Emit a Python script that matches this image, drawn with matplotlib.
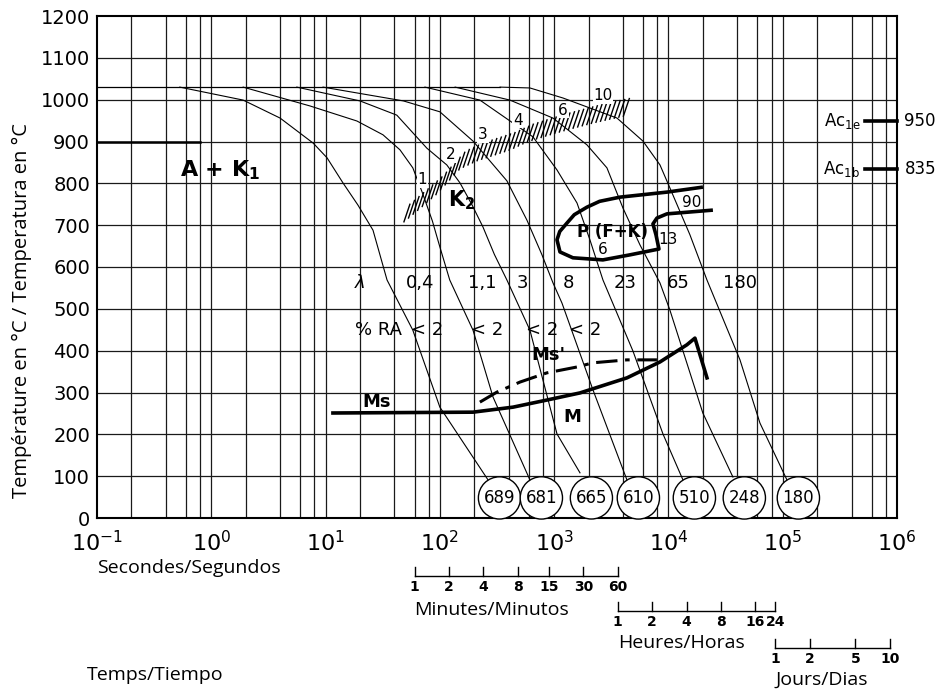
import numpy as np
import matplotlib
matplotlib.use("Agg")
import matplotlib.pyplot as plt
from matplotlib.transforms import blended_transform_factory

plt.rcParams['font.family'] = ['DejaVu Sans']
plt.rcParams['mathtext.fontset'] = 'dejavusans'

# cooling curves: time (s) and temperature (C)
c1_t = [0.53, 1.9, 4.0, 7.8, 10.3, 14.2, 19.2, 26, 34.5, 58, 100, 264]
c1_T = [1030, 999, 956, 896, 861, 801, 748, 688, 569, 449, 265, 91]
c2_t = [1.9, 7.3, 18.8, 31.8, 44.8, 58, 70, 86, 100, 122, 195, 292, 614]
c2_T = [1030, 985, 949, 916, 880, 837, 779, 710, 648, 569, 449, 289, 91]
c3_t = [5.6, 20, 42, 77, 115, 150, 190, 238, 300, 386, 614, 1059, 1683]
c3_T = [1030, 997, 963, 884, 844, 801, 750, 696, 630, 569, 449, 201, 108]
c4_t = [9.5, 48, 100, 195, 386, 578, 780, 977, 1170, 2188, 4335]
c4_T = [1030, 997, 971, 901, 806, 712, 630, 562, 514, 306, 91]
c5_t = [74, 224, 653, 1059, 1585, 2056, 2673, 4895, 8955, 13400]
c5_T = [1030, 999, 911, 832, 753, 665, 569, 399, 201, 91]
c6_t = [136, 410, 977, 1936, 2897, 4000, 5632, 8433, 10300, 20000, 36650]
c6_T = [1030, 999, 956, 892, 837, 741, 653, 562, 497, 251, 98]
c7_t = [336, 614, 1194, 3548, 5984, 8433, 10300, 15420, 21730, 42270, 63200, 108900]
c7_T = [1030, 1028, 1004, 956, 901, 844, 789, 677, 569, 378, 227, 91]

hardness = [689, 681, 665, 610, 510, 248, 180]
lambdas = ['0,4', '1,1', '3', '8', '23', '65', '180']
lambda_t = [67, 233, 523, 1321, 4163, 12110, 42270]
ra_t = [77, 258, 782, 1860]

# K2 carbide band (centre line) and percent labels
k2_t = [51.5, 74, 100, 159, 224, 436, 614, 918, 1374, 2371, 4335]
k2_T = [729, 765, 796, 856, 875, 901, 920, 935, 949, 966, 982]
k2_pct = ['1', '2', '3', '4', '6', '10']
k2_pct_t = [70, 125, 238, 482, 1194, 2673]
k2_pct_T = [808, 868, 916, 951, 975, 1009]

# pearlite region outline
p_t = [20050, 9700, 3770, 2500, 1936, 1500, 1294, 1120, 1059, 1125, 1460, 2670, 4600, 8260,
       7780, 7320, 7930, 9700, 24500]
p_T = [791, 779, 767, 757, 743, 725, 705, 685, 665, 636, 622, 617, 629, 643,
       677, 703, 717, 727, 736]

# martensite start lines
ms_t = [11.6, 195, 437, 865, 1683, 4337, 8430, 14500, 17060, 21740]
ms_T = [251, 253, 265, 282, 299, 335, 373, 414, 430, 335]
ms2_t = [224, 316, 503, 865, 1586, 2183, 4337, 7930]
ms2_T = [277, 301, 325, 347, 361, 371, 378, 378]

aust_T = 1030
ac1e, ac1b = 950, 835

minutes = [1, 2, 4, 8, 15, 30, 60]
hours = [1, 2, 4, 8, 16, 24]
days = [1, 2, 5, 10]

fig = plt.figure(figsize=(9.44, 6.92), dpi=100)
ax = fig.add_axes([97 / 944, 174 / 692, 800 / 944, 502 / 692])
ax.set_xscale('log')
ax.set_xlim(0.1, 1e6)
ax.set_ylim(0, 1200)

# grid: 1,2,4,6,8 per decade, every 100 C
for k in range(-1, 6):
    for m in [1, 2, 4, 6, 8]:
        v = m * 10.0 ** k
        if 0.1 < v < 1e6:
            ax.axvline(v, color='#1a1a1a', lw=0.9, zorder=1)
for y in range(100, 1200, 100):
    ax.axhline(y, color='#1a1a1a', lw=0.9, zorder=1)
ax.plot([0.1, 0.8], [900, 900], color='black', lw=1.8, zorder=2)

ax.set_xticks([10.0 ** k for k in range(-1, 7)])
ax.set_xticks([], minor=True)
ax.set_yticks(range(0, 1201, 100))
ax.tick_params(axis='x', length=0, labelsize=16, pad=9)
ax.tick_params(axis='y', length=0, labelsize=14, pad=5)
for s in ax.spines.values():
    s.set_linewidth(1.5)

# austenitizing line
ax.plot([0.1, c7_t[0]], [aust_T, aust_T], color='black', lw=0.9, zorder=3)

curves = [(c1_t, c1_T), (c2_t, c2_T), (c3_t, c3_T), (c4_t, c4_T),
          (c5_t, c5_T), (c6_t, c6_T), (c7_t, c7_T)]
for (ct, cT), hv in zip(curves, hardness):
    ax.plot(ct, cT, color='black', lw=0.8, zorder=3)
    ax.text(ct[-1] * 10 ** 0.1, 48, str(hv), ha='center', va='center', fontsize=12,
            bbox=dict(boxstyle='circle,pad=0.32', fc='white', ec='black', lw=1), zorder=5)

# K2 hatch strokes
lt_path = np.log10(k2_t)
for lt in np.arange(lt_path[0], lt_path[-1], 0.04):
    T = np.interp(lt, lt_path, k2_T)
    ax.plot([10 ** (lt - 0.026), 10 ** (lt + 0.026)], [T - 21, T + 21],
            color='black', lw=1.0, zorder=3)
for lab, tt, TT in zip(k2_pct, k2_pct_t, k2_pct_T):
    ax.text(tt, TT, lab, ha='center', va='center', fontsize=11, zorder=4,
            bbox=dict(boxstyle='square,pad=0.05', fc='white', ec='none'))

# pearlite region
ax.plot(p_t, p_T, color='black', lw=2.6, zorder=4, solid_capstyle='butt')
ax.text(3250, 684, 'P (F+K)', ha='center', va='center', fontsize=12, fontweight='bold', zorder=5)
ax.text(2673, 641, '6', ha='center', va='center', fontsize=11)
ax.text(9910, 665, '13', ha='center', va='center', fontsize=11)
ax.text(16070, 755, '90', ha='center', va='center', fontsize=11)

# Ms lines
ax.plot(ms_t, ms_T, color='black', lw=2.6, zorder=4)
ax.plot(ms2_t, ms2_T, color='black', lw=2.2, dashes=(7, 2.5, 1.5, 2.5), zorder=4)
ax.text(28.2, 277, 'Ms', ha='center', va='center', fontsize=13, fontweight='bold')
ax.text(883, 390, "Ms'", ha='center', va='center', fontsize=13, fontweight='bold')
ax.text(1432, 241, 'M', ha='center', va='center', fontsize=13, fontweight='bold')

# phase labels
ax.text(0.53, 832, r'A + K$_{\mathbf{1}}$', ha='left', va='center', fontsize=16,
        fontweight='bold')
ax.text(156, 760, r'$\mathbf{K_2}$', ha='center', va='center', fontsize=15)

# lambda and %RA rows
ax.text(20, 562, r'$\lambda$', ha='center', va='center', fontsize=13)
for lab, tt in zip(lambdas, lambda_t):
    ax.text(tt, 562, lab, ha='center', va='center', fontsize=13)
ax.text(28.8, 449, '% RA', ha='center', va='center', fontsize=13)
for tt in ra_t:
    ax.text(tt, 449, '< 2', ha='center', va='center', fontsize=13)

# Ac1 marks on the right
tr_y = blended_transform_factory(ax.transAxes, ax.transData)
for val, name in [(ac1e, 'Ac$_{\\rm 1e}$'), (ac1b, 'Ac$_{\\rm 1b}$')]:
    ax.plot([0.96, 1.0], [val, val], color='black', lw=2.6, transform=tr_y, clip_on=False)
    ax.text(0.931, val, name, ha='center', va='center', fontsize=12, transform=tr_y)
    ax.text(1.029, val, str(val), ha='center', va='center', fontsize=12,
            transform=tr_y, clip_on=False)

# secondary time scales under the axis
tr = blended_transform_factory(ax.transData, ax.transAxes)


def time_scale(vals, unit, y_line, title, y_title):
    xs = [v * unit for v in vals]
    ax.plot([xs[0], xs[-1]], [y_line, y_line], color='black', lw=1, transform=tr, clip_on=False)
    for x, v in zip(xs, vals):
        ax.plot([x, x], [y_line, y_line + 0.018], color='black', lw=1, transform=tr, clip_on=False)
        ax.text(x, y_line - 0.022, str(v), ha='center', va='center', fontsize=10,
                fontweight='bold', transform=tr, clip_on=False)
    ax.text(xs[0], y_title, title, ha='left', va='center', fontsize=14,
            family='Open Sans', transform=tr, clip_on=False)


time_scale(minutes, 60, -0.1155, 'Minutes/Minutos', -0.183)
time_scale(hours, 3600, -0.185, 'Heures/Horas', -0.249)
time_scale(days, 86400, -0.259, 'Jours/Dias', -0.323)

ax.text(0.1, -0.0996, 'Secondes/Segundos', ha='left', va='center', fontsize=14,
        family='Open Sans', transform=tr, clip_on=False)
fig.text(87 / 944, 1 - 675 / 692, 'Temps/Tiempo', ha='left', va='center', fontsize=14,
         family='Open Sans')
fig.text(22 / 944, 1 - 310 / 692, 'Température en °C / Temperatura en °C', rotation=90,
         ha='center', va='center', fontsize=14.5, family='Open Sans')

fig.savefig('out.png', dpi=100)
